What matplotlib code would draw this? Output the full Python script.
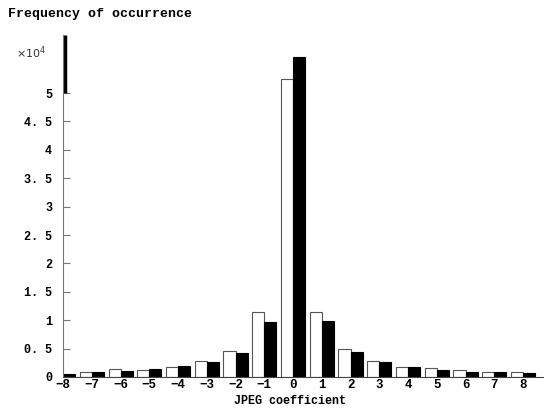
import numpy as np
import matplotlib.pyplot as plt

# JPEG coefficient histogram, values in units of 1e4
coeffs = np.arange(-8, 9)
freq_white = [0.06, 0.08, 0.135, 0.13, 0.18, 0.29, 0.46, 1.15, 5.25,
              1.15, 0.49, 0.29, 0.18, 0.15, 0.12, 0.08, 0.08]
freq_black = [0.05, 0.08, 0.10, 0.135, 0.19, 0.26, 0.43, 0.97, 5.63,
              0.99, 0.44, 0.26, 0.17, 0.12, 0.09, 0.08, 0.065]
yticks = np.arange(0, 5.01, 0.5)
ytick_labels = ['0', '0. 5', '1', '1. 5', '2', '2. 5', '3', '3. 5', '4', '4. 5', '5']

fnt = 'Liberation Mono'

fig = plt.figure(figsize=(5.44, 4.08), dpi=100)
ax = fig.add_axes([0.116, 0.076, 0.884, 0.838])

w = 0.42
ax.bar(coeffs - w / 2, freq_white, width=w, color='white', edgecolor='#555555', linewidth=0.8)
ax.bar(coeffs + w / 2, freq_black, width=w, color='black', edgecolor='black', linewidth=0.8)

for s in ['top', 'right']:
    ax.spines[s].set_visible(False)
ax.spines['left'].set_color('#777777')
ax.spines['bottom'].set_color('#444444')
# thick dark part at top of the y axis
ax.plot([0.004, 0.004], [5.0, 6.02], color='black', linewidth=2.5, clip_on=False,
        solid_capstyle='butt', transform=ax.get_yaxis_transform())

ax.set_xlim(-7.78, 8.73)
ax.set_ylim(0, 6.02)

ax.set_yticks(yticks)
ax.set_yticklabels(ytick_labels, fontfamily=fnt, fontweight='bold', fontsize=8.5)
ax.set_xticks(coeffs)
ax.set_xticklabels([f'\u2212{-c}' if c < 0 else str(c) for c in coeffs],
                   fontfamily=fnt, fontweight='bold', fontsize=9)
ax.tick_params(axis='y', direction='in', length=5, color='#777777', pad=8)
ax.tick_params(axis='x', length=0, pad=1.5)

fig.text(290 / 544, 1 - 401 / 408, 'JPEG coefficient', fontfamily=fnt, fontweight='bold',
         fontsize=8.5, va='center', ha='center')
fig.text(0.015, 0.965, 'Frequency of occurrence', fontfamily=fnt, fontweight='bold',
         fontsize=9.5, va='center', ha='left')
fig.text(0.03, 0.87, r'$\times10^4$', fontsize=8, va='center', ha='left', color='#333333')

fig.savefig('out.png', dpi=100)
